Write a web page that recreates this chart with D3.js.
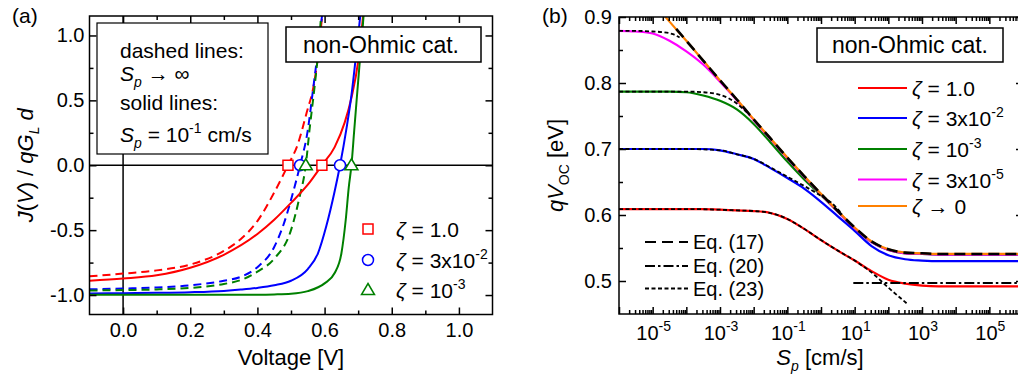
<!DOCTYPE html>
<html>
<head>
<meta charset="utf-8">
<script src="https://cdn.jsdelivr.net/npm/d3@7"></script>
<style>
  body { margin: 0; background: #fff; }
  svg { font-family: "Liberation Sans", Arial, Helvetica, sans-serif; }
</style>
</head>
<body>
<div class="chart"></div>
<script>
// ---- panel (a): J(V)/qG_L d vs voltage ----
// dashed lines (S_p -> infinity)
var vRedDash = [-0.1, 0, 0.1, 0.2, 0.3, 0.35, 0.4, 0.45, 0.491, 0.52, 0.545, 0.57, 0.58, 0.59, 0.6];
var jRedDash = [-0.856, -0.835, -0.81, -0.765, -0.66, -0.57, -0.43, -0.21, 0, 0.16, 0.39, 0.65, 0.83, 1.08, 1.32];
var vBlueDash = [-0.1, 0, 0.1, 0.2, 0.3, 0.35, 0.4, 0.45, 0.48, 0.505, 0.527, 0.55, 0.565, 0.58, 0.59, 0.6];
var jBlueDash = [-0.956, -0.95, -0.942, -0.925, -0.89, -0.86, -0.785, -0.63, -0.44, -0.22, 0, 0.27, 0.57, 0.88, 1.1, 1.32];
var vGreenDash = [-0.1, 0, 0.1, 0.2, 0.3, 0.35, 0.4, 0.45, 0.5, 0.525, 0.544, 0.555, 0.57, 0.582, 0.59, 0.6];
var jGreenDash = [-0.965, -0.962, -0.957, -0.945, -0.915, -0.885, -0.82, -0.72, -0.5, -0.25, 0, 0.27, 0.6, 0.9, 1.16, 1.4];
// solid lines (S_p = 0.1 cm/s)
var vRedSolid = [-0.1, 0, 0.1, 0.2, 0.3, 0.4, 0.45, 0.5, 0.55, 0.592, 0.63, 0.66, 0.68, 0.7, 0.71, 0.72];
var jRedSolid = [-0.89, -0.873, -0.848, -0.79, -0.69, -0.53, -0.42, -0.29, -0.15, 0, 0.14, 0.33, 0.52, 0.8, 1.03, 1.3];
var vBlueSolid = [-0.1, 0, 0.1, 0.2, 0.3, 0.35, 0.4, 0.45, 0.5, 0.55, 0.58, 0.605, 0.63, 0.646, 0.665, 0.68, 0.695, 0.705, 0.715];
var jBlueSolid = [-0.988, -0.986, -0.983, -0.978, -0.968, -0.958, -0.945, -0.925, -0.89, -0.8, -0.68, -0.47, -0.2, 0, 0.28, 0.54, 0.88, 1.12, 1.38];
var vGreenSolid = [-0.1, 0, 0.2, 0.4, 0.45, 0.5, 0.55, 0.6, 0.63, 0.65, 0.663, 0.672, 0.68, 0.688, 0.696, 0.708, 0.716, 0.722];
var jGreenSolid = [-0.998, -0.998, -0.998, -0.997, -0.995, -0.99, -0.97, -0.91, -0.83, -0.68, -0.42, -0.17, 0, 0.26, 0.52, 0.9, 1.15, 1.4];
// open-circuit voltages marked on J = 0
var vocDashed = [0.491, 0.527, 0.544];
var vocSolid = [0.592, 0.646, 0.680];

// ---- panel (b): qV_OC vs S_p (log10 of S_p as x) ----
var spExp = [-6, -5.5, -5, -4.5, -4, -3.5, -3, -2.5, -2, -1.5, -1, -0.5, 0, 0.5, 1, 1.5, 2, 2.5, 3, 3.5, 4, 4.5, 5, 5.5, 6];
var vocRed = [0.609, 0.609, 0.609, 0.609, 0.609, 0.609, 0.608, 0.607, 0.606, 0.603, 0.594, 0.579, 0.562, 0.546, 0.531, 0.515, 0.502, 0.496, 0.493, 0.492, 0.492, 0.492, 0.492, 0.492, 0.492];
var vocBlue = [0.700, 0.700, 0.700, 0.700, 0.700, 0.700, 0.698, 0.692, 0.685, 0.671, 0.656, 0.640, 0.620, 0.598, 0.576, 0.553, 0.539, 0.533, 0.531, 0.530, 0.530, 0.530, 0.530, 0.530, 0.530];
var vocGreen = [0.787, 0.787, 0.787, 0.787, 0.786, 0.781, 0.773, 0.760, 0.738, 0.710, 0.681, 0.654, 0.630, 0.605, 0.580, 0.559, 0.547, 0.542, 0.541, 0.540, 0.540, 0.540, 0.540, 0.540, 0.540];
var vocMagenta = [0.879, 0.878, 0.875, 0.864, 0.848, 0.828, 0.802, 0.774, 0.744, 0.715, 0.686, 0.658, 0.631, 0.605, 0.580, 0.559, 0.547, 0.542, 0.541, 0.540, 0.540, 0.540, 0.540, 0.540, 0.540];
var vocOrange = [0.982, 0.952, 0.923, 0.893, 0.864, 0.834, 0.804, 0.775, 0.745, 0.716, 0.687, 0.659, 0.632, 0.606, 0.581, 0.560, 0.548, 0.543, 0.542, 0.541, 0.541, 0.541, 0.541, 0.541, 0.541];

// analytic approximations (black)
var eq17Exp = [-4.3, -4, -3.5, -3, -2.5, -2, -1.5, -1, -0.5, 0, 0.5, 1, 1.5, 2, 2.5, 3, 3.5, 4, 5, 6];
var eq17V = [0.882, 0.864, 0.834, 0.804, 0.775, 0.745, 0.716, 0.687, 0.659, 0.632, 0.606, 0.581, 0.560, 0.548, 0.543, 0.542, 0.541, 0.541, 0.541, 0.541];
var eq20Exp = [0.96, 6];
var eq20V = [0.497, 0.497];
var eq23MagExp = [-6, -5.5, -5, -4.7, -4.4, -4.2];
var eq23MagV = [0.879, 0.879, 0.878, 0.877, 0.874, 0.869];
var eq23GreenExp = [-6, -5, -4, -3.5, -3, -2.75, -2.5, -2.3, -2.1];
var eq23GreenV = [0.787, 0.787, 0.787, 0.786, 0.782, 0.777, 0.769, 0.760, 0.751];
var eq23BlueExp = [-6, -4, -3, -2.5, -2, -1.5, -1, -0.5, 0, 0.3, 0.6];
var eq23BlueV = [0.700, 0.700, 0.698, 0.692, 0.685, 0.672, 0.658, 0.644, 0.629, 0.619, 0.603];
var eq23RedExp = [-6, -4, -3, -2.5, -2, -1.5, -1, -0.5, 0, 0.5, 1, 1.5, 2, 2.55];
var eq23RedV = [0.609, 0.609, 0.608, 0.607, 0.606, 0.603, 0.594, 0.579, 0.562, 0.546, 0.531, 0.513, 0.490, 0.466];

// legend labels
var zetaBase = ["1.0", "3x10", "10", "3x10", ""];
var zetaSup = ["", "-2", "-3", "-5", ""];
var eqLabels = ["Eq. (17)", "Eq. (20)", "Eq. (23)"];

var colors = ["#ff0000", "#0000ff", "#008000", "#ff00ff", "#ff8000"];

function pairs(xs, ys) {
  return xs.map(function(x, i) { return [x, ys[i]]; });
}

function styleAxis(g) {
  g.attr("font-family", null).attr("font-size", 20);
  g.select(".domain").remove();
  g.selectAll(".tick line").attr("stroke", "#000").attr("stroke-width", 1.5);
  g.selectAll(".tick text").attr("fill", "#000");
}

function init() {
  var w = 1018;
  var h = 386;

  var svg = d3.select(".chart")
    .append("svg")
    .attr("width", w)
    .attr("height", h);

  // ================= panel (a) =================
  var ax0 = 89.5, ax1 = 492.5, ay0 = 16, ay1 = 314.5;
  var xA = d3.scaleLinear().domain([-0.1, 1.1]).range([ax0, ax1]);
  var yA = d3.scaleLinear().domain([-1.15, 1.15]).range([ay1, ay0]);
  var fmt = function(d) { return d.toFixed(1); };

  svg.append("clipPath").attr("id", "clipA").append("rect")
    .attr("x", ax0).attr("y", ay0).attr("width", ax1 - ax0).attr("height", ay1 - ay0);

  // zero lines
  svg.append("line").attr("x1", ax0).attr("x2", ax1).attr("y1", yA(0)).attr("y2", yA(0))
    .attr("stroke", "#000").attr("stroke-width", 1.5);
  svg.append("line").attr("x1", xA(0)).attr("x2", xA(0)).attr("y1", ay0).attr("y2", ay1)
    .attr("stroke", "#000").attr("stroke-width", 1.5);

  var lineA = d3.line()
    .x(function(d) { return xA(d[0]); })
    .y(function(d) { return yA(d[1]); })
    .curve(d3.curveMonotoneX);

  var curvesA = [
    {d: pairs(vRedDash, jRedDash), c: colors[0], dash: "8,5"},
    {d: pairs(vBlueDash, jBlueDash), c: colors[1], dash: "8,5"},
    {d: pairs(vGreenDash, jGreenDash), c: colors[2], dash: "8,5"},
    {d: pairs(vRedSolid, jRedSolid), c: colors[0], dash: null},
    {d: pairs(vBlueSolid, jBlueSolid), c: colors[1], dash: null},
    {d: pairs(vGreenSolid, jGreenSolid), c: colors[2], dash: null}
  ];

  svg.append("g").attr("clip-path", "url(#clipA)")
    .selectAll("path")
    .data(curvesA)
    .enter()
    .append("path")
    .attr("d", function(d) { return lineA(d.d); })
    .attr("fill", "none")
    .attr("stroke", function(d) { return d.c; })
    .attr("stroke-width", 2)
    .attr("stroke-dasharray", function(d) { return d.dash; });

  function marker(g, i, cx, cy) {
    if (i === 0) {
      g.append("rect").attr("x", cx - 5).attr("y", cy - 5).attr("width", 10).attr("height", 10)
        .attr("fill", "#fff").attr("stroke", colors[0]).attr("stroke-width", 1.5);
    } else if (i === 1) {
      g.append("circle").attr("cx", cx).attr("cy", cy).attr("r", 5.5)
        .attr("fill", "#fff").attr("stroke", colors[1]).attr("stroke-width", 1.5);
    } else {
      g.append("path")
        .attr("d", "M" + cx + "," + (cy - 6.5) + "L" + (cx + 6.5) + "," + (cy + 4.5) + "L" + (cx - 6.5) + "," + (cy + 4.5) + "Z")
        .attr("fill", "#fff").attr("stroke", colors[2]).attr("stroke-width", 1.5);
    }
  }

  var mk = svg.append("g");
  vocDashed.forEach(function(v, i) { marker(mk, i, xA(v), yA(0)); });
  vocSolid.forEach(function(v, i) { marker(mk, i, xA(v), yA(0)); });

  // axes (ticks inward)
  svg.append("g").attr("transform", "translate(0," + ay1 + ")")
    .call(d3.axisBottom(xA).tickValues([0, 0.2, 0.4, 0.6, 0.8, 1.0]).tickSize(-7).tickPadding(8).tickFormat(fmt))
    .call(styleAxis);
  svg.append("g").attr("transform", "translate(0," + ay1 + ")")
    .call(d3.axisBottom(xA).tickValues([0.1, 0.3, 0.5, 0.7, 0.9]).tickSize(-4).tickFormat(""))
    .call(styleAxis);
  svg.append("g").attr("transform", "translate(0," + ay0 + ")")
    .call(d3.axisTop(xA).tickValues([0, 0.2, 0.4, 0.6, 0.8, 1.0]).tickSize(-7).tickFormat(""))
    .call(styleAxis);
  svg.append("g").attr("transform", "translate(0," + ay0 + ")")
    .call(d3.axisTop(xA).tickValues([0.1, 0.3, 0.5, 0.7, 0.9]).tickSize(-4).tickFormat(""))
    .call(styleAxis);
  svg.append("g").attr("transform", "translate(" + ax0 + ",0)")
    .call(d3.axisLeft(yA).tickValues([-1, -0.5, 0, 0.5, 1]).tickSize(-7).tickPadding(5).tickFormat(fmt))
    .call(styleAxis);
  svg.append("g").attr("transform", "translate(" + ax0 + ",0)")
    .call(d3.axisLeft(yA).tickValues([-0.75, -0.25, 0.25, 0.75]).tickSize(-4).tickFormat(""))
    .call(styleAxis);
  svg.append("g").attr("transform", "translate(" + ax1 + ",0)")
    .call(d3.axisRight(yA).tickValues([-1, -0.5, 0, 0.5, 1]).tickSize(-7).tickFormat(""))
    .call(styleAxis);
  svg.append("g").attr("transform", "translate(" + ax1 + ",0)")
    .call(d3.axisRight(yA).tickValues([-0.75, -0.25, 0.25, 0.75]).tickSize(-4).tickFormat(""))
    .call(styleAxis);

  svg.append("rect").attr("x", ax0).attr("y", ay0).attr("width", ax1 - ax0).attr("height", ay1 - ay0)
    .attr("fill", "none").attr("stroke", "#000").attr("stroke-width", 1.5);

  // info box
  svg.append("rect").attr("x", 97).attr("y", 23).attr("width", 171).attr("height", 131)
    .attr("fill", "#fff").attr("stroke", "#000").attr("stroke-width", 1.2);
  var t1 = svg.append("g").attr("font-size", 21).attr("fill", "#000");
  t1.append("text").attr("x", 120).attr("y", 58).text("dashed lines:");
  var s1 = t1.append("text").attr("x", 120).attr("y", 81);
  s1.append("tspan").attr("font-style", "italic").text("S");
  s1.append("tspan").attr("font-style", "italic").attr("font-size", 14).attr("dy", 6).text("p");
  s1.append("tspan").attr("dy", -6).text(" \u2192 \u221e");
  t1.append("text").attr("x", 120).attr("y", 110).text("solid lines:");
  var s2 = t1.append("text").attr("x", 120).attr("y", 142);
  s2.append("tspan").attr("font-style", "italic").text("S");
  s2.append("tspan").attr("font-style", "italic").attr("font-size", 14).attr("dy", 6).text("p");
  s2.append("tspan").attr("dy", -6).text(" = 10");
  s2.append("tspan").attr("font-size", 14).attr("dy", -9).text("-1");
  s2.append("tspan").attr("dy", 9).text(" cm/s");

  // non-Ohmic box (a)
  svg.append("rect").attr("x", 286).attr("y", 27).attr("width", 195).attr("height", 35)
    .attr("fill", "#fff").attr("stroke", "#000").attr("stroke-width", 1.5);
  svg.append("text").attr("x", 381).attr("y", 53).attr("text-anchor", "middle")
    .attr("font-size", 23).text("non-Ohmic cat.");

  // marker legend (a)
  var legA = [229, 260, 290];
  legA.forEach(function(y, i) {
    marker(svg, i, 368, y);
    var t = svg.append("text").attr("x", 396).attr("y", y + 8).attr("font-size", 21);
    t.append("tspan").attr("font-style", "italic").text("\u03b6");
    t.append("tspan").text(" = " + zetaBase[i]);
    if (zetaSup[i]) t.append("tspan").attr("font-size", 14).attr("dy", -9).text(zetaSup[i]);
  });

  // titles (a)
  svg.append("text").attr("x", 12).attr("y", 23).attr("font-size", 21).text("(a)");
  svg.append("text").attr("x", (ax0 + ax1) / 2).attr("y", 365).attr("text-anchor", "middle")
    .attr("font-size", 22).text("Voltage [V]");
  var yl = svg.append("text").attr("transform", "translate(33," + (ay0 + ay1) / 2 + ") rotate(-90)")
    .attr("text-anchor", "middle").attr("font-size", 22);
  yl.append("tspan").attr("font-style", "italic").text("J");
  yl.append("tspan").text("(");
  yl.append("tspan").attr("font-style", "italic").text("V");
  yl.append("tspan").text(") / ");
  yl.append("tspan").attr("font-style", "italic").text("qG");
  yl.append("tspan").attr("font-style", "italic").attr("font-size", 14).attr("dy", 6).text("L");
  yl.append("tspan").attr("font-style", "italic").attr("dy", -6).text(" d");

  // ================= panel (b) =================
  var bx0 = 619, bx1 = 1023, by0 = 17, by1 = 314;
  var xB = d3.scaleLog().domain([1e-6, 1e6]).range([bx0, bx1]);
  var yB = d3.scaleLinear().domain([0.45, 0.9]).range([by1, by0]);

  svg.append("clipPath").attr("id", "clipB").append("rect")
    .attr("x", bx0).attr("y", by0).attr("width", bx1 - bx0).attr("height", by1 - by0);

  var lineB = d3.line()
    .x(function(d) { return xB(Math.pow(10, d[0])); })
    .y(function(d) { return yB(d[1]); })
    .curve(d3.curveMonotoneX);

  var series = [vocRed, vocBlue, vocGreen, vocMagenta, vocOrange];
  var gB = svg.append("g").attr("clip-path", "url(#clipB)");
  gB.selectAll("path.voc")
    .data(series)
    .enter()
    .append("path")
    .attr("class", "voc")
    .attr("d", function(d) { return lineB(pairs(spExp, d)); })
    .attr("fill", "none")
    .attr("stroke", function(d, i) { return colors[i]; })
    .attr("stroke-width", 2.2);

  var approx = [
    {d: pairs(eq23MagExp, eq23MagV), dash: "4,2.5", sw: 1.8},
    {d: pairs(eq23GreenExp, eq23GreenV), dash: "4,2.5", sw: 1.8},
    {d: pairs(eq23BlueExp, eq23BlueV), dash: "4,2.5", sw: 1.8},
    {d: pairs(eq23RedExp, eq23RedV), dash: "4,2.5", sw: 1.8},
    {d: pairs(eq17Exp, eq17V), dash: "11,6", sw: 2.6},
    {d: pairs(eq20Exp, eq20V), dash: "10,3,2.5,3", sw: 2}
  ];
  gB.selectAll("path.approx")
    .data(approx)
    .enter()
    .append("path")
    .attr("class", "approx")
    .attr("d", function(d) { return lineB(d.d); })
    .attr("fill", "none")
    .attr("stroke", "#000")
    .attr("stroke-width", function(d) { return d.sw; })
    .attr("stroke-dasharray", function(d) { return d.dash; });

  // log axes
  var majors = d3.range(-6, 7).map(function(e) { return Math.pow(10, e); });
  var minors = [];
  d3.range(-6, 6).forEach(function(e) {
    for (var k = 2; k <= 9; k++) minors.push(k * Math.pow(10, e));
  });

  svg.append("g").attr("transform", "translate(0," + by1 + ")")
    .call(d3.axisBottom(xB).tickValues(majors).tickSize(-7).tickFormat(""))
    .call(styleAxis);
  svg.append("g").attr("transform", "translate(0," + by1 + ")")
    .call(d3.axisBottom(xB).tickValues(minors).tickSize(-4).tickFormat(""))
    .call(styleAxis);
  svg.append("g").attr("transform", "translate(0," + by0 + ")")
    .call(d3.axisTop(xB).tickValues(majors).tickSize(-7).tickFormat(""))
    .call(styleAxis);
  svg.append("g").attr("transform", "translate(0," + by0 + ")")
    .call(d3.axisTop(xB).tickValues(minors).tickSize(-4).tickFormat(""))
    .call(styleAxis);
  svg.append("g").attr("transform", "translate(" + bx0 + ",0)")
    .call(d3.axisLeft(yB).tickValues([0.5, 0.6, 0.7, 0.8, 0.9]).tickSize(-7).tickPadding(7).tickFormat(fmt))
    .call(styleAxis);
  svg.append("g").attr("transform", "translate(" + bx0 + ",0)")
    .call(d3.axisLeft(yB).tickValues([0.55, 0.65, 0.75, 0.85]).tickSize(-4).tickFormat(""))
    .call(styleAxis);
  svg.append("g").attr("transform", "translate(" + bx1 + ",0)")
    .call(d3.axisRight(yB).tickValues([0.5, 0.6, 0.7, 0.8, 0.9]).tickSize(-7).tickFormat(""))
    .call(styleAxis);
  svg.append("g").attr("transform", "translate(" + bx1 + ",0)")
    .call(d3.axisRight(yB).tickValues([0.55, 0.65, 0.75, 0.85]).tickSize(-4).tickFormat(""))
    .call(styleAxis);

  svg.append("rect").attr("x", bx0).attr("y", by0).attr("width", bx1 - bx0).attr("height", by1 - by0)
    .attr("fill", "none").attr("stroke", "#000").attr("stroke-width", 1.5);

  // decade labels
  [-5, -3, -1, 1, 3, 5].forEach(function(e) {
    var t = svg.append("text").attr("x", xB(Math.pow(10, e)) + 1).attr("y", 340)
      .attr("text-anchor", "middle").attr("font-size", 20);
    t.append("tspan").text("10");
    t.append("tspan").attr("font-size", 14).attr("dy", -9).text(e);
  });

  // non-Ohmic box (b)
  svg.append("rect").attr("x", 817).attr("y", 28).attr("width", 186).attr("height", 34)
    .attr("fill", "#fff").attr("stroke", "#000").attr("stroke-width", 1.5);
  svg.append("text").attr("x", 910).attr("y", 53).attr("text-anchor", "middle")
    .attr("font-size", 23).text("non-Ohmic cat.");

  // colour legend (b)
  var legB = [88, 118, 149, 179.5, 206];
  legB.forEach(function(y, i) {
    svg.append("line").attr("x1", 858).attr("x2", 907).attr("y1", y).attr("y2", y)
      .attr("stroke", colors[i]).attr("stroke-width", 2.2);
    var t = svg.append("text").attr("x", 912).attr("y", y + 8).attr("font-size", 21);
    t.append("tspan").attr("font-style", "italic").text("\u03b6");
    if (i === 4) {
      t.append("tspan").text(" \u2192 0");
    } else {
      t.append("tspan").text(" = " + zetaBase[i]);
      if (zetaSup[i]) t.append("tspan").attr("font-size", 14).attr("dy", -9).text(zetaSup[i]);
    }
  });

  // equation legend (b)
  var legEq = [242, 266, 288.5];
  var eqDash = ["11,6", "10,3,2.5,3", "4,2.5"];
  legEq.forEach(function(y, i) {
    svg.append("line").attr("x1", 645).attr("x2", 688).attr("y1", y).attr("y2", y)
      .attr("stroke", "#000").attr("stroke-width", 2).attr("stroke-dasharray", eqDash[i]);
    svg.append("text").attr("x", 693).attr("y", y + 7).attr("font-size", 20).text(eqLabels[i]);
  });

  // titles (b)
  svg.append("text").attr("x", 542).attr("y", 23).attr("font-size", 21).text("(b)");
  var xl = svg.append("text").attr("x", 820).attr("y", 365).attr("text-anchor", "middle").attr("font-size", 22);
  xl.append("tspan").attr("font-style", "italic").text("S");
  xl.append("tspan").attr("font-style", "italic").attr("font-size", 14).attr("dy", 6).text("p");
  xl.append("tspan").attr("dy", -6).text(" [cm/s]");
  var yl2 = svg.append("text").attr("transform", "translate(563," + (by0 + by1) / 2 + ") rotate(-90)")
    .attr("text-anchor", "middle").attr("font-size", 22);
  yl2.append("tspan").attr("font-style", "italic").text("qV");
  yl2.append("tspan").attr("font-size", 14).attr("dy", 6).text("OC");
  yl2.append("tspan").attr("dy", -6).text(" [eV]");
}

window.onload = init;
</script>
</body>
</html>
